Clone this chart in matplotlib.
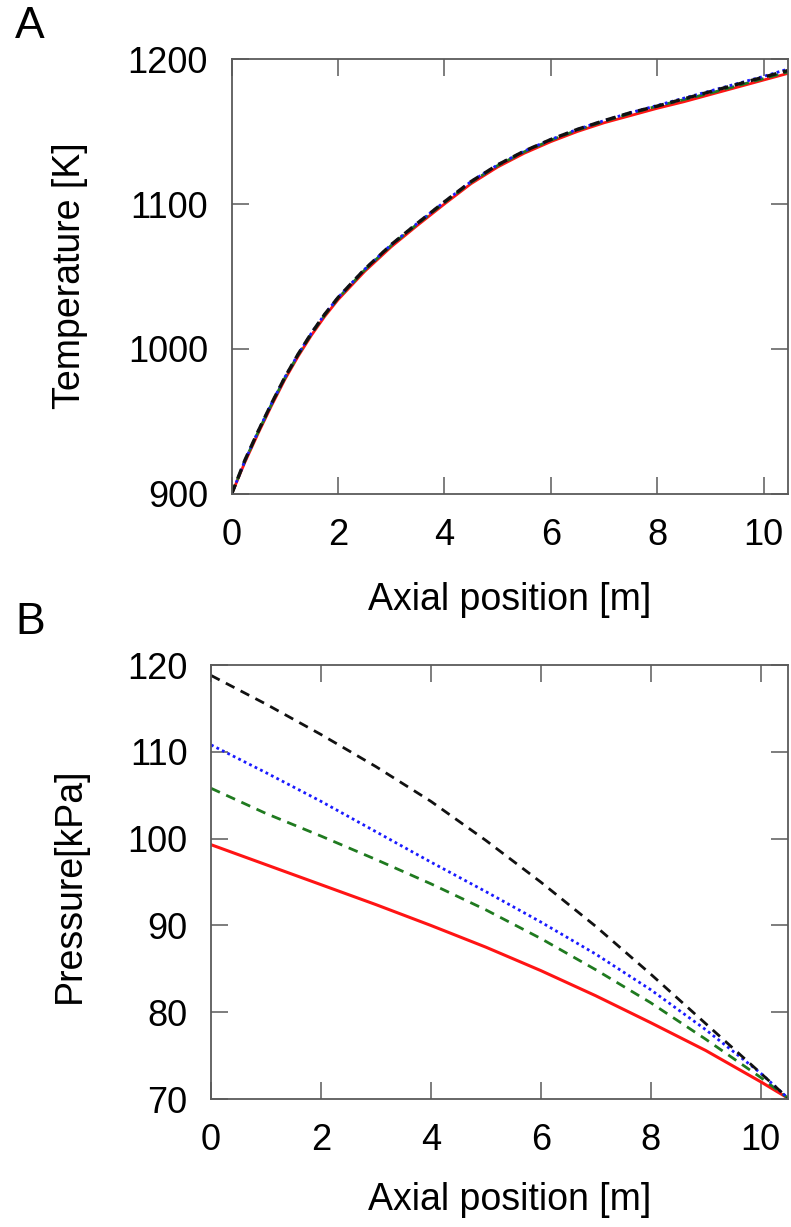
import numpy as np
import matplotlib
matplotlib.use("Agg")
import matplotlib.pyplot as plt

## Data
# Panel A: temperature along the reactor
posA = [0, 0.25, 0.5, 0.75, 1.0, 1.25, 1.5, 1.75, 2.0, 2.5, 3.0, 3.5, 4.0, 4.5,
        5.0, 5.5, 6.0, 6.5, 7.0, 7.5, 8.0, 8.5, 9.0, 9.5, 10.0, 10.45]
tempRed = [900, 922, 942, 961, 979, 995, 1009.5, 1022.5, 1034, 1053.5, 1070.5, 1085.5, 1100, 1114,
           1125.5, 1135, 1143, 1150, 1156, 1161, 1166, 1170.5, 1175.5, 1180.5, 1185.5, 1190]
tempGreen = [900, 923, 943, 962, 980, 996, 1010.5, 1023.5, 1035, 1054.5, 1071.5, 1086.5, 1101, 1115,
             1126.5, 1136, 1144, 1151, 1157, 1162.5, 1167.5, 1172, 1176.5, 1181.5, 1186.5, 1191]
tempBlue = [900, 923, 943.5, 962.5, 980.5, 996.5, 1011, 1024, 1035.5, 1055, 1072, 1087, 1101.5, 1115.5,
            1127, 1136.5, 1144.5, 1151.5, 1157.5, 1163, 1168, 1173, 1178, 1183, 1188, 1193]
tempBlack = [900, 923.5, 943.5, 962.5, 980.5, 996.5, 1011, 1024, 1035.5, 1055, 1072, 1087, 1101.5, 1115.5,
             1127, 1136.5, 1144.5, 1151.5, 1157.5, 1163, 1167.5, 1172.5, 1177.5, 1182.5, 1187.5, 1192]

# Panel B: pressure along the reactor
posB = [0, 1, 2, 3, 4, 5, 6, 7, 8, 9, 10, 10.5]
presRed = [99.3, 97.0, 94.7, 92.4, 90.0, 87.5, 84.8, 81.9, 78.8, 75.6, 72.0, 70.1]
presGreen = [105.8, 102.9, 100.3, 97.6, 94.8, 91.8, 88.5, 84.9, 81.1, 76.9, 72.5, 70.1]
presBlue = [110.8, 107.6, 104.3, 100.8, 97.3, 93.9, 90.4, 86.7, 82.6, 78.0, 73.0, 70.1]
presBlack = [118.8, 115.5, 112.0, 108.3, 104.3, 99.8, 95.0, 89.9, 84.4, 78.7, 73.0, 70.1]

xTicks = [0, 2, 4, 6, 8, 10]
tTicks = [900, 1000, 1100, 1200]
pTicks = [70, 80, 90, 100, 110, 120]

## Styling
plt.rcParams['font.family'] = ['Liberation Sans', 'DejaVu Sans']
fs = 26
red = '#ff1414'
green = '#1f7a1f'
blue = '#1a1aff'
black = '#111111'
spineCol = '#5a5a5a'
lw = 2.0

fig = plt.figure(figsize=(7.91, 12.27), dpi=100)
axA = fig.add_axes([0.2929, 0.5974, 0.7027, 0.3545])
axB = fig.add_axes([0.2668, 0.1043, 0.7294, 0.3537])


def styleAxes(ax):
    for sp in ax.spines.values():
        sp.set_color(spineCol)
        sp.set_linewidth(1.3)
    ax.tick_params(direction='in', length=12, width=1.1, color=spineCol,
                   top=True, right=True, labelsize=fs, pad=17, labelcolor='black')


# Panel A
axA.plot(posA, tempRed, color=red, lw=lw, ls='-')
axA.plot(posA, tempGreen, color=green, lw=lw, dashes=(3.5, 2))
axA.plot(posA, tempBlue, color=blue, lw=lw, dashes=(1, 1.2))
axA.plot(posA, tempBlack, color=black, lw=lw + 0.4, dashes=(3, 2))
axA.set_xlim(0, 10.45)
axA.set_ylim(900, 1200)
axA.set_xticks(xTicks)
axA.set_yticks(tTicks)
styleAxes(axA)

# Panel B
axB.plot(posB, presRed, color=red, lw=lw + 0.2, ls='-')
axB.plot(posB, presGreen, color=green, lw=lw, dashes=(3.5, 2.5))
axB.plot(posB, presBlue, color=blue, lw=lw, dashes=(1, 1.2))
axB.plot(posB, presBlack, color=black, lw=lw, dashes=(3.5, 2.5))
axB.set_xlim(0, 10.5)
axB.set_ylim(70, 120)
axB.set_xticks(xTicks)
axB.set_yticks(pTicks)
styleAxes(axB)

# Axis titles and panel letters
fig.text(70 / 791, 1 - 276 / 1227, 'Temperature [K]', rotation=90, ha='center', va='center', fontsize=27)
fig.text(510 / 791, 1 - 600 / 1227, 'Axial position [m]', ha='center', va='center', fontsize=27)
fig.text(70 / 791, 1 - 885 / 1227, 'Pressure[kPa]', rotation=90, ha='center', va='center', fontsize=27)
fig.text(510 / 791, 1 - 1200 / 1227, 'Axial position [m]', ha='center', va='center', fontsize=27)
fig.text(30 / 791, 1 - 27 / 1227, 'A', ha='center', va='center', fontsize=32)
fig.text(30 / 791, 1 - 622 / 1227, 'B', ha='center', va='center', fontsize=32)

fig.savefig('out.png', dpi=100)
